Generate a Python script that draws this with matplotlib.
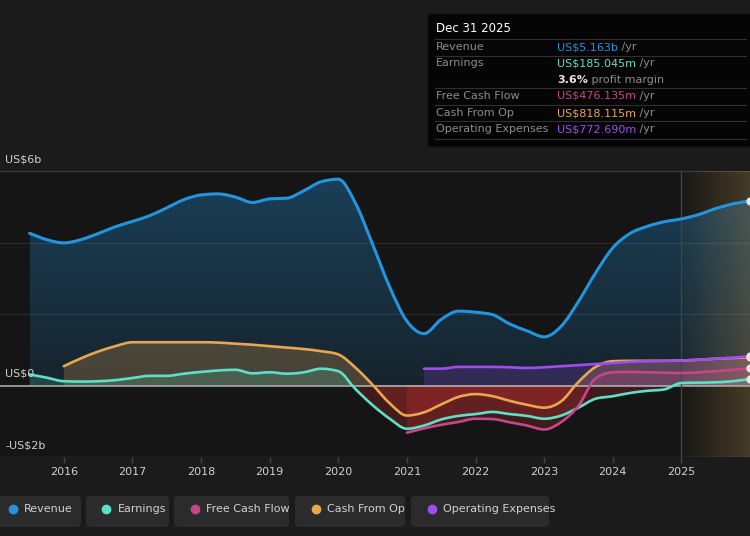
import numpy as np
import matplotlib
matplotlib.use("Agg")
import matplotlib.pyplot as plt
from matplotlib.path import Path
from matplotlib.patches import PathPatch, Rectangle, FancyBboxPatch
from matplotlib.lines import Line2D

plt.rcParams['font.family'] = ['DejaVu Sans']

# ---------------- data (US$ billions, trailing twelve months) ----------------
rev_x = [2015.5, 2015.75, 2016.0, 2016.25, 2016.5, 2016.75, 2017.0, 2017.25, 2017.5, 2017.75,
         2018.0, 2018.25, 2018.5, 2018.75, 2019.0, 2019.25, 2019.5, 2019.75, 2020.0, 2020.25,
         2020.5, 2020.75, 2021.0, 2021.25, 2021.5, 2021.75, 2022.0, 2022.25, 2022.5, 2022.75,
         2023.0, 2023.25, 2023.5, 2023.75, 2024.0, 2024.25, 2024.5, 2024.75, 2025.0, 2025.25,
         2025.5, 2025.75, 2026.0]
revenue = [4.26, 4.08, 3.99, 4.08, 4.25, 4.44, 4.59, 4.75, 4.97, 5.20,
           5.33, 5.36, 5.27, 5.12, 5.22, 5.24, 5.45, 5.70, 5.77, 5.10,
           3.95, 2.75, 1.80, 1.45, 1.85, 2.08, 2.05, 1.98, 1.72, 1.53,
           1.36, 1.66, 2.35, 3.15, 3.85, 4.25, 4.45, 4.58, 4.66, 4.78,
           4.95, 5.08, 5.163]

earn_x = rev_x
earnings = [0.31, 0.22, 0.12, 0.11, 0.12, 0.15, 0.21, 0.27, 0.27, 0.33,
            0.38, 0.42, 0.44, 0.34, 0.37, 0.33, 0.37, 0.47, 0.40, -0.10,
            -0.55, -0.93, -1.21, -1.12, -0.95, -0.85, -0.80, -0.74, -0.80, -0.85,
            -0.93, -0.84, -0.62, -0.37, -0.30, -0.21, -0.15, -0.11, 0.07, 0.08,
            0.09, 0.12, 0.185]

cfo_x = rev_x[2:]
cash_from_op = [0.54, 0.76, 0.95, 1.10, 1.21, 1.21, 1.21, 1.21,
                1.21, 1.20, 1.17, 1.14, 1.10, 1.06, 1.02, 0.96, 0.87, 0.50,
                0.02, -0.50, -0.84, -0.75, -0.53, -0.32, -0.24, -0.30, -0.43, -0.54,
                -0.62, -0.44, 0.10, 0.52, 0.68, 0.69, 0.69, 0.69, 0.70, 0.72,
                0.75, 0.77, 0.79]

fcf_x = rev_x[22:]
free_cash_flow = [-1.32, -1.20, -1.10, -1.02, -0.93, -0.94, -1.03, -1.12,
                  -1.23, -1.02, -0.57, 0.20, 0.37, 0.38, 0.37, 0.36, 0.35, 0.37,
                  0.40, 0.44, 0.48]

opex_x = rev_x[23:]
operating_expenses = [0.47, 0.47, 0.52, 0.52, 0.52, 0.51, 0.49,
                      0.51, 0.54, 0.57, 0.60, 0.63, 0.66, 0.68, 0.69, 0.70, 0.72,
                      0.75, 0.78, 0.82]

year_ticks = list(range(2016, 2026))
y_labels = {6: "US$6b", 0: "US$0", -2: "-US$2b"}

legend_names = ["Revenue", "Earnings", "Free Cash Flow", "Cash From Op", "Operating Expenses"]
tooltip_rows = [("Revenue", "US$5.163b"), ("Earnings", "US$185.045m"),
                ("Free Cash Flow", "US$476.135m"), ("Cash From Op", "US$818.115m"),
                ("Operating Expenses", "US$772.690m")]
profit_margin = "3.6%"

# ---------------- style ----------------
C_REV = '#2394df'
C_EARN = '#5de0c6'
C_FCF = '#c6468a'
C_CFO = '#e8a64f'
C_OPEX = '#a04cf0'
C_NEG = '#e03434'
FIG_BG = '#1b1b1b'
AX_BG = '#151515'

W, H = 750, 536
fig = plt.figure(figsize=(W / 100, H / 100), dpi=100, facecolor=FIG_BG)
ax = fig.add_axes([0, 1 - 457 / H, 1, (457 - 171) / H])
ax.set_facecolor(AX_BG)
XMIN, XMAX = 2015.07, 2026.0
ax.set_xlim(XMIN, XMAX)
ax.set_ylim(-2, 6)
for s in ax.spines.values():
    s.set_visible(False)


def mono_path(x, y):
    x = np.asarray(x, float)
    y = np.asarray(y, float)
    n = len(x)
    h = np.diff(x)
    d = np.diff(y) / h
    m = np.zeros(n)
    m[0] = d[0]
    m[-1] = d[-1]
    for k in range(1, n - 1):
        s0, s1 = d[k - 1], d[k]
        p = (s0 * h[k] + s1 * h[k - 1]) / (h[k - 1] + h[k])
        m[k] = (np.sign(s0) + np.sign(s1)) * min(abs(s0), abs(s1), 0.5 * abs(p))
    verts = [(x[0], y[0])]
    codes = [Path.MOVETO]
    for k in range(n - 1):
        hk = h[k]
        verts += [(x[k] + hk / 3, y[k] + m[k] * hk / 3),
                  (x[k + 1] - hk / 3, y[k + 1] - m[k + 1] * hk / 3),
                  (x[k + 1], y[k + 1])]
        codes += [Path.CURVE4] * 3
    return verts, codes


def area_path(x, y):
    v, c = mono_path(x, y)
    v = v + [(x[-1], 0), (x[0], 0), (x[0], 0)]
    c = c + [Path.LINETO, Path.LINETO, Path.CLOSEPOLY]
    return Path(v, c)


def draw_series(x, y, color, lw, pos_alpha, neg_alpha, z, gradient=False):
    ap = area_path(x, y)
    pos_clip = Rectangle((XMIN - 1, 0), 20, 100, transform=ax.transData)
    neg_clip = Rectangle((XMIN - 1, -100), 20, 100, transform=ax.transData)
    if gradient:
        patch = PathPatch(ap, facecolor='none', edgecolor='none', transform=ax.transData)
        ax.add_patch(patch)
        rgb = matplotlib.colors.to_rgb(color)
        ny = 200
        alphas = np.linspace(0.34, 0.12, ny)[:, None]
        img = np.zeros((ny, 1, 4))
        img[..., 0], img[..., 1], img[..., 2] = rgb
        img[..., 3] = alphas
        im = ax.imshow(img, extent=[x[0], x[-1], 0, 6], aspect='auto',
                       origin='upper', zorder=z, interpolation='bilinear')
        im.set_clip_path(patch)
    else:
        pp = PathPatch(ap, facecolor=color, alpha=pos_alpha, edgecolor='none', zorder=z)
        ax.add_patch(pp)
        pp.set_clip_path(pos_clip)
    npch = PathPatch(ap, facecolor=C_NEG, alpha=neg_alpha, edgecolor='none', zorder=z)
    ax.add_patch(npch)
    npch.set_clip_path(neg_clip)
    v, c = mono_path(x, y)
    ax.add_patch(PathPatch(Path(v, c), facecolor='none', edgecolor=color, lw=lw,
                           capstyle='round', joinstyle='round', zorder=10 + z))
    ax.plot([x[-1]], [y[-1]], 'o', ms=5, color='#e6e6e6', zorder=30, clip_on=True)


# gridlines
for yv, col in [(6, '#3a3a3a'), (4, '#2a2a2a'), (2, '#2a2a2a')]:
    ax.axhline(yv, color=col, lw=0.9, zorder=0.5)
ax.axhline(-2, color='#3a3a3a', lw=1.0, zorder=0.5)

draw_series(rev_x, revenue, C_REV, 2.2, 0.3, 0.22, 1, gradient=True)
draw_series(cfo_x, cash_from_op, C_CFO, 1.9, 0.24, 0.22, 2)
draw_series(earn_x, earnings, C_EARN, 1.9, 0.18, 0.22, 3)
draw_series(opex_x, operating_expenses, C_OPEX, 1.9, 0.2, 0.22, 4)
draw_series(fcf_x, free_cash_flow, C_FCF, 1.9, 0.18, 0.22, 5)

ax.axhline(0, color='#d2d2d2', lw=1.1, alpha=0.85, zorder=8)

# forecast shading
fc = np.zeros((1, 100, 4))
fc[..., 0], fc[..., 1], fc[..., 2] = matplotlib.colors.to_rgb('#c49c55')
fc[..., 3] = np.linspace(0.02, 0.28, 100)[None, :]
ax.imshow(fc, extent=[2025.0, XMAX, -2, 6], aspect='auto', zorder=9, interpolation='bilinear')
ax.axvline(2025.0, color='#4d4332', lw=1.0, zorder=9)

# axis ticks
ax.set_xticks(year_ticks)
ax.set_xticklabels([str(t) for t in year_ticks])
ax.tick_params(axis='x', colors='#444444', length=4, width=1, pad=3, labelsize=8,
               labelcolor='#cfcfcf')
ax.set_yticks([])
ax.set_xlim(XMIN, XMAX)
ax.set_ylim(-2, 6)

for yv, txt in y_labels.items():
    ax.annotate(txt, xy=(0, yv), xycoords=('axes fraction', 'data'), xytext=(5, 12),
                textcoords='offset pixels', ha='left', va='center', fontsize=8,
                color='#d0d0d0', zorder=40)


# ---------------- helpers in figure pixel coords ----------------
def fx(px):
    return px / W


def fy(py):
    return 1 - py / H


# legend
legend_boxes = [(-8, 81), (86, 169), (174, 289), (295, 405), (411, 549)]
legend_colors = [C_REV, C_EARN, C_FCF, C_CFO, C_OPEX]
for (x0, x1), name, col in zip(legend_boxes, legend_names, legend_colors):
    fig.add_artist(FancyBboxPatch((fx(x0), fy(527)), fx(x1 - x0), (527 - 496) / H,
                                  boxstyle='round,pad=0,rounding_size=0.006',
                                  transform=fig.transFigure, facecolor='#2b2b2b',
                                  edgecolor='none'))
    fig.add_artist(Line2D([fx(x0 + 20.5)], [fy(509)], marker='o', ms=6, color=col,
                          transform=fig.transFigure, linestyle='none'))
    fig.text(fx(x0 + 32), fy(509), name, fontsize=8, color='#d2d2d2', ha='left', va='center')

# tooltip
fig.add_artist(FancyBboxPatch((fx(428), fy(147)), fx(340), (147 - 14) / H,
                              boxstyle='round,pad=0,rounding_size=0.006',
                              transform=fig.transFigure, facecolor='#050505',
                              edgecolor='#111111', lw=0.8))
fig.text(fx(436), fy(29), "Dec 31 2025", fontsize=8.5, color='#ffffff', ha='left', va='center')
for yl in [39, 55.7, 88, 105, 121, 139]:
    fig.add_artist(Line2D([fx(435), fx(746)], [fy(yl), fy(yl)], color='#303030', lw=0.8,
                          transform=fig.transFigure))

val_cols = [C_REV, C_EARN, C_FCF, C_CFO, C_OPEX]
row_y = [47, 63, 96, 113, 129]
for (lab, val), col, yy in zip(tooltip_rows, val_cols, row_y):
    fig.text(fx(436), fy(yy), lab, fontsize=8, color='#8c8c8c', ha='left', va='center')
    t = fig.text(fx(557), fy(yy), val, fontsize=8, color=col, ha='left', va='center')
    fig.add_artist(matplotlib.text.Annotation(" /yr", xy=(1, 0), xycoords=t,
                                              fontsize=8, color='#8c8c8c',
                                              ha='left', va='bottom'))
t = fig.text(fx(557), fy(80), profit_margin, fontsize=8, color='#e6e6e6', ha='left',
             va='center', fontweight='bold')
fig.add_artist(matplotlib.text.Annotation(" profit margin", xy=(1, 0), xycoords=t,
                                          fontsize=8, color='#8c8c8c', ha='left',
                                          va='bottom'))

fig.savefig("out.png", dpi=100, facecolor=FIG_BG)
